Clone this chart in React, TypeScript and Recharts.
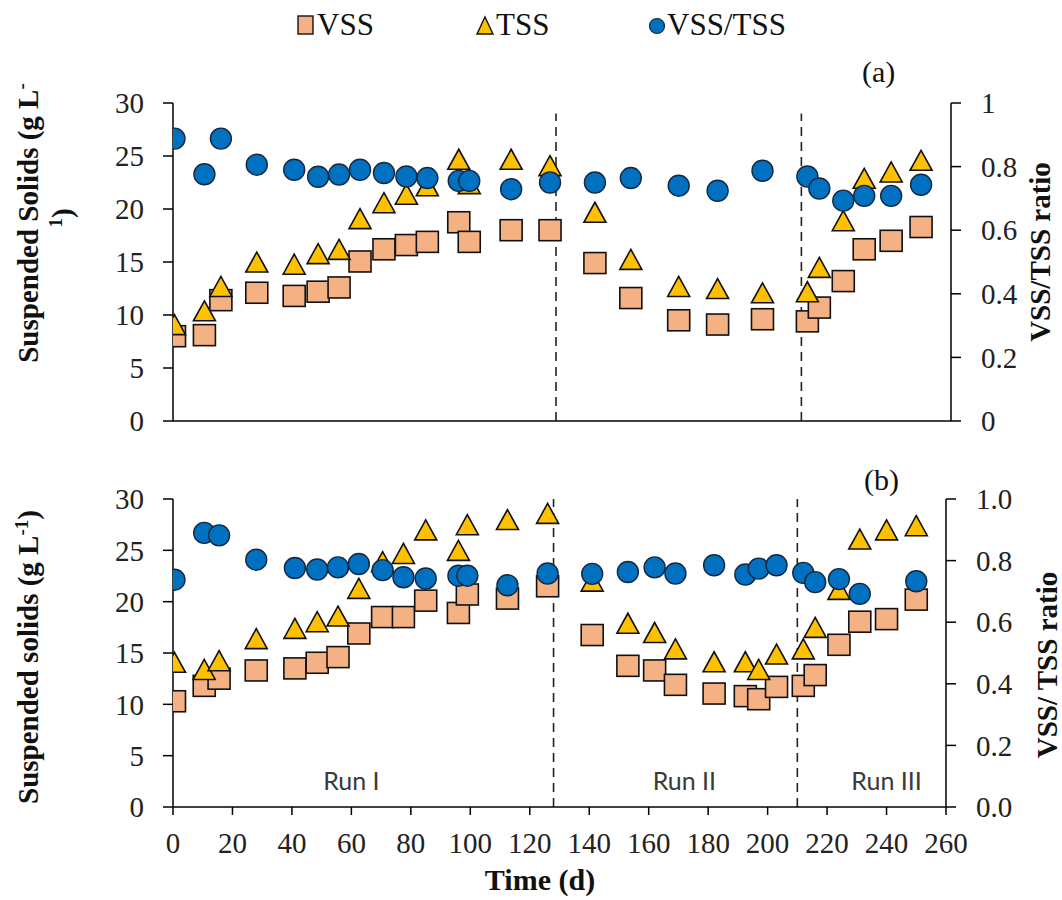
import { ScatterChart, Scatter, XAxis, YAxis, ReferenceLine, ReferenceDot } from 'recharts';

// ---- data ----
const dayTicks = [0, 20, 40, 60, 80, 100, 120, 140, 160, 180, 200, 220, 240, 260];
const solidsTicks = [0, 5, 10, 15, 20, 25, 30];
const ratioTicks = [0, 0.2, 0.4, 0.6, 0.8, 1];

// panel (a)
const daysA = [0.5, 10.5, 16, 28, 40.5, 48.5, 55.5, 62.5, 70.5, 78, 85, 95.5, 99, 113, 126, 141, 153, 169, 182, 197, 212, 216, 224, 231, 240, 250];
const vssA = [8.0, 8.1, 11.4, 12.1, 11.8, 12.2, 12.6, 15.05, 16.2, 16.6, 16.9, 18.75, 16.9, 18.0, 18.0, 14.9, 11.6, 9.5, 9.1, 9.6, 9.4, 10.7, 13.2, 16.2, 17.0, 18.3];
const tssA = [9.0, 10.3, 12.6, 14.9, 14.7, 15.7, 16.1, 19.0, 20.5, 21.3, 22.1, 24.6, 22.3, 24.6, 24.0, 19.6, 15.15, 12.6, 12.4, 12.0, 12.1, 14.4, 18.8, 22.8, 23.4, 24.5];
const ratioA = [0.888, 0.776, 0.888, 0.806, 0.79, 0.768, 0.775, 0.79, 0.78, 0.769, 0.764, 0.755, 0.755, 0.729, 0.75, 0.75, 0.764, 0.74, 0.724, 0.787, 0.769, 0.731, 0.693, 0.708, 0.708, 0.743];

// panel (b)
const daysB = [0.5, 10.5, 15.5, 28, 41, 48.5, 55.5, 62.5, 70.5, 77.5, 85, 96, 99, 112.5, 126, 141, 153, 162, 169, 182, 192.5, 197, 203, 212, 216, 224, 231, 240, 250];
const vssB = [10.3, 11.8, 12.5, 13.3, 13.5, 14.05, 14.6, 16.9, 18.5, 18.5, 20.1, 18.9, 20.7, 20.3, 21.5, 16.75, 13.75, 13.3, 11.9, 11.05, 10.8, 10.5, 11.7, 11.8, 12.85, 15.8, 18.05, 18.3, 20.2];
const tssB = [14.0, 13.3, 14.15, 16.3, 17.3, 17.95, 18.5, 21.2, 23.8, 24.6, 26.9, 24.9, 27.4, 27.9, 28.5, 21.9, 17.8, 16.9, 15.3, 14.05, 14.05, 13.3, 14.8, 15.3, 17.4, 21.1, 26.0, 26.9, 27.3];
const ratioB = [0.738, 0.89, 0.882, 0.803, 0.776, 0.771, 0.778, 0.789, 0.769, 0.746, 0.742, 0.751, 0.751, 0.72, 0.758, 0.757, 0.763, 0.778, 0.758, 0.785, 0.755, 0.774, 0.785, 0.76, 0.73, 0.74, 0.692, null, 0.733];

const runBounds = [128, 210];
const runNames = ['Run I', 'Run II', 'Run III'];
const runLabelDays = [60, 172, 240];

const SERIF = '"Liberation Serif", "Times New Roman", serif';
const VSS_FILL = '#F4B183';
const TSS_FILL = '#FFC000';
const RATIO_FILL = '#0070C0';

const toPts = (days: number[], vals: (number | null)[]) =>
  days.map((d, i) => ({ x: d, y: vals[i] })).filter((p) => p.y != null);

function SquareMark(p: any) {
  if (p.cx == null || p.cy == null) return null;
  return <rect x={p.cx - 11} y={p.cy - 10.5} width={22} height={21} fill={VSS_FILL} stroke="#111" strokeWidth={1.6} />;
}

function TriangleMark(p: any) {
  if (p.cx == null || p.cy == null) return null;
  const { cx, cy } = p;
  return (
    <polygon
      points={`${cx},${cy - 11} ${cx + 11},${cy + 9} ${cx - 11},${cy + 9}`}
      fill={TSS_FILL}
      stroke="#111"
      strokeWidth={1.6}
      strokeLinejoin="miter"
    />
  );
}

function CircleMark(p: any) {
  if (p.cx == null || p.cy == null) return null;
  return <circle cx={p.cx} cy={p.cy} r={10.5} fill={RATIO_FILL} stroke="#15283f" strokeWidth={1.4} />;
}

const axisLine = { stroke: '#000', strokeWidth: 1.5 };
const tickFont = { fontSize: 29, fontFamily: SERIF, fill: '#222' };

interface PanelProps {
  days: number[];
  vss: number[];
  tss: number[];
  ratio: (number | null)[];
  height: number;
  marginTop: number;
  xAxisHeight: number;
  rightWidth: number;
  showDayLabels: boolean;
  dashTop: number;
  ratioFmt: (v: number) => string;
}

function Panel(props: PanelProps) {
  const { days, vss, tss, ratio, height, marginTop, xAxisHeight, rightWidth, showDayLabels, dashTop, ratioFmt } = props;
  return (
    <ScatterChart width={1062} height={height} margin={{ top: marginTop, right: 0, left: 0, bottom: 0 }}>
      <XAxis
        type="number"
        dataKey="x"
        domain={[0, 260]}
        ticks={dayTicks}
        interval={0}
        allowDataOverflow
        height={xAxisHeight}
        tickSize={8}
        tickMargin={17}
        axisLine={axisLine}
        tickLine={axisLine}
        tick={showDayLabels ? tickFont : false}
      />
      <YAxis
        yAxisId="l"
        type="number"
        dataKey="y"
        domain={[0, 30]}
        ticks={solidsTicks}
        interval={0}
        allowDataOverflow
        width={173}
        tickSize={10}
        tickMargin={19}
        axisLine={axisLine}
        tickLine={axisLine}
        tick={tickFont}
      />
      <YAxis
        yAxisId="r"
        orientation="right"
        type="number"
        dataKey="y"
        domain={[0, 1]}
        ticks={ratioTicks}
        interval={0}
        allowDataOverflow
        width={rightWidth}
        tickSize={10}
        tickMargin={20}
        axisLine={axisLine}
        tickLine={axisLine}
        tick={{ ...tickFont, textAnchor: 'start' }}
        tickFormatter={ratioFmt}
      />
      {runBounds.map((d) => (
        <ReferenceLine
          key={d}
          yAxisId="l"
          segment={[{ x: d, y: 0 }, { x: d, y: dashTop }]}
          stroke="#222"
          strokeWidth={1.6}
          strokeDasharray="9 6"
        />
      ))}
      {showDayLabels &&
        runNames.map((name, i) => (
          <ReferenceDot
            key={name}
            yAxisId="l"
            x={runLabelDays[i]}
            y={2.5}
            r={0}
            fill="none"
            stroke="none"
            label={{ value: name, position: 'center', fill: '#3a3a3a', fontSize: 25, fontFamily: 'Lato, "Liberation Sans", sans-serif' }}
          />
        ))}
      <Scatter yAxisId="l" data={toPts(days, vss)} shape={SquareMark} isAnimationActive={false} />
      <Scatter yAxisId="l" data={toPts(days, tss)} shape={TriangleMark} isAnimationActive={false} />
      <Scatter yAxisId="r" data={toPts(days, ratio)} shape={CircleMark} isAnimationActive={false} />
    </ScatterChart>
  );
}

function Overlay() {
  const titleFont = { fontFamily: SERIF, fontWeight: 700, fontSize: 29, fill: '#111' };
  const plainFont = { fontFamily: SERIF, fontSize: 31, fill: '#111' };
  return (
    <svg width={1062} height={900} style={{ position: 'absolute', left: 0, top: 0, pointerEvents: 'none' }}>
      {/* legend */}
      <rect x={298} y={16} width={15} height={18} fill={VSS_FILL} stroke="#111" strokeWidth={1.4} />
      <text x={317} y={35} {...plainFont}>VSS</text>
      <polygon points="485,17 493,34 477,34" fill={TSS_FILL} stroke="#111" strokeWidth={1.4} />
      <text x={496} y={35} {...plainFont}>TSS</text>
      <circle cx={657} cy={26} r={7.5} fill={RATIO_FILL} stroke="#15283f" strokeWidth={1.2} />
      <text x={667} y={35} {...plainFont}>VSS/TSS</text>

      <text x={862} y={82} {...plainFont} fontSize={30}>(a)</text>
      <text x={864} y={490} {...plainFont} fontSize={30}>(b)</text>

      {/* left titles */}
      <text transform="translate(38,223) rotate(-90)" textAnchor="middle" {...titleFont}>
        Suspended Solids (g L<tspan dy={-10} fontSize={19}>-</tspan>
      </text>
      <text transform="translate(72,218) rotate(-90)" textAnchor="middle" {...titleFont}>
        <tspan dy={-10} fontSize={19}>1</tspan>
        <tspan dy={10}>)</tspan>
      </text>
      <text transform="translate(38,657) rotate(-90)" textAnchor="middle" {...titleFont}>
        Suspended solids (g L<tspan dy={-10} fontSize={19}>-1</tspan>
        <tspan dy={10}>)</tspan>
      </text>

      {/* right titles */}
      <text transform="translate(1050,252) rotate(-90)" textAnchor="middle" {...titleFont}>VSS/TSS ratio</text>
      <text transform="translate(1057,665) rotate(-90)" textAnchor="middle" {...titleFont}>VSS/ TSS ratio</text>

      <text x={540} y={890} textAnchor="middle" {...titleFont} fontSize={30}>Time (d)</text>
    </svg>
  );
}

export default function App() {
  return (
    <div style={{ position: 'absolute', left: 0, top: 0, width: 1062, height: 900, background: '#fff' }}>
      <div style={{ position: 'absolute', left: 0, top: 0 }}>
        <Panel
          days={daysA}
          vss={vssA}
          tss={tssA}
          ratio={ratioA}
          height={450}
          marginTop={103}
          xAxisHeight={29}
          rightWidth={111}
          showDayLabels={false}
          dashTop={29}
          ratioFmt={(v) => String(v)}
        />
      </div>
      <div style={{ position: 'absolute', left: 0, top: 460 }}>
        <Panel
          days={daysB}
          vss={vssB}
          tss={tssB}
          ratio={ratioB}
          height={440}
          marginTop={39}
          xAxisHeight={93}
          rightWidth={116}
          showDayLabels={true}
          dashTop={30}
          ratioFmt={(v) => v.toFixed(1)}
        />
      </div>
      <Overlay />
    </div>
  );
}
